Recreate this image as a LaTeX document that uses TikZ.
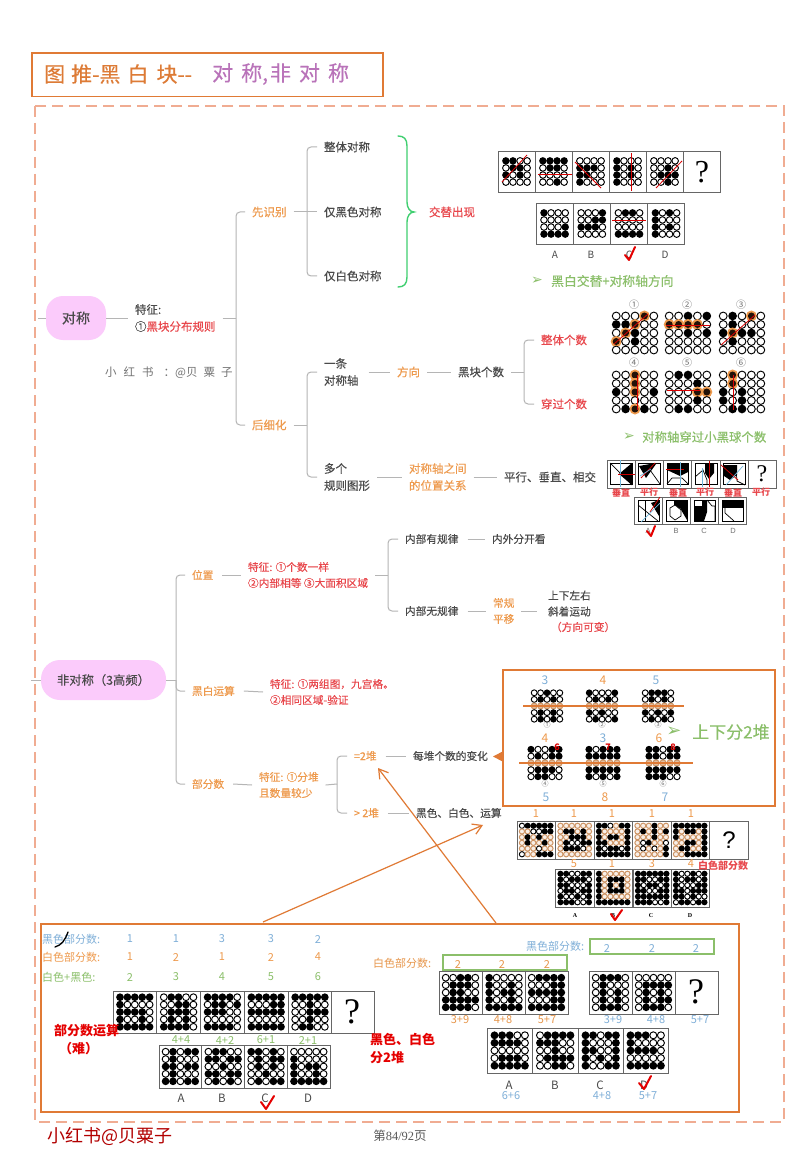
\documentclass[tikz,border=0pt]{standalone}
\usepackage{fontspec}
\usetikzlibrary{arrows.meta}
\setmainfont{Noto Sans CJK SC}
\newfontfamily\medf[FakeBold=0.3]{Noto Sans CJK SC}
\newfontfamily\djv{DejaVu Sans}
\newfontfamily\lserif{Liberation Serif}
\newfontfamily\lsans{Liberation Sans}
\definecolor{ink}{HTML}{4A4A4A}
\definecolor{redt}{HTML}{E8474C}
\definecolor{orgt}{HTML}{EE9A4D}
\definecolor{orgb}{HTML}{E07A35}
\definecolor{pinkn}{HTML}{FBCBFB}
\definecolor{grn}{HTML}{8BBF6A}
\definecolor{blu}{HTML}{7FAFD8}
\definecolor{tanc}{HTML}{CD9464}
\definecolor{frm}{HTML}{F0AC92}
\definecolor{barc}{HTML}{B5B5B5}
\newcount\dgx
\def\dgDot#1{%
 \if#10\draw[line width=.95pt,fill=white] ({\dgX+\the\dgx*\dgP},{\dgY+\jj*\dgQ}) circle[radius=\dgR pt];\fi
 \if#11\fill[black] ({\dgX+\the\dgx*\dgP},{\dgY+\jj*\dgQ}) circle[radius=\dgR pt+.45pt];\fi
 \if#12\fill[orgt] ({\dgX+\the\dgx*\dgP},{\dgY+\jj*\dgQ}) circle[radius=\dgR pt+1.6pt];\fill[black!85!orgb] ({\dgX+\the\dgx*\dgP},{\dgY+\jj*\dgQ}) circle[radius=\dgR pt-.4pt];\fi
 \if#1t\draw[tanc,line width=1pt,fill=tanc!15] ({\dgX+\the\dgx*\dgP},{\dgY+\jj*\dgQ}) circle[radius=\dgR pt];\fi
 \if#1u\draw[tanc,line width=1pt,fill=tanc!60] ({\dgX+\the\dgx*\dgP},{\dgY+\jj*\dgQ}) circle[radius=\dgR pt];\fi
}
\def\dgRow#1{\ifx#1;\else\dgDot{#1}\global\advance\dgx by 1 \expandafter\dgRow\fi}
\newcommand{\dg}[6]{%
 \pgfmathsetmacro\dgX{#1-(#3-1)/2*#4}\pgfmathsetmacro\dgY{#2-(#3-1)/2*#5}%
 \pgfmathsetmacro\dgR{0.46*min(#4,#5)}\def\dgP{#4}\def\dgQ{#5}%
 \foreach \rw [count=\jj from 0] in {#6}{\global\dgx=0 \expandafter\dgRow\rw;}%
}
\tikzset{
 conn/.style={barc,line width=1pt},
 brn/.style={barc,line width=1pt,rounded corners=4pt},
 lab/.style={inner sep=0pt,outer sep=7pt,xshift=-7pt,anchor=west,align=left,text=ink,font=\medf\fontsize{11.5}{17}\selectfont},
 lorg/.style={lab,text=orgt},
 lred/.style={lab,text=redt},
 sm/.style={font=\medf\fontsize{10.7}{16}\selectfont},
 rootn/.style={fill=pinkn,rounded corners=17pt,inner sep=0pt,outer sep=0pt,text=ink,font=\medf\fontsize{14}{16}\selectfont},
 cellb/.style={draw=black!60,line width=.9pt,fill=white},
 redln/.style={red!85!black,line width=.8pt},
 chk/.style={red!90!black,line width=2pt,line cap=round,line join=round},
 numb/.style={inner sep=0pt,font=\fontsize{11}{12}\selectfont},
 captxt/.style={inner sep=0pt,font=\fontsize{10}{12}\selectfont,text=ink},
 bigred/.style={inner sep=0pt,anchor=west,align=left,text=red!90!black,font=\fontsize{13}{18}\bfseries\selectfont},
 orgbox/.style={draw=orgb,line width=1.5pt},
 grnbox/.style={draw=grn,line width=1.2pt},
 orgln/.style={orgb,line width=1.3pt},
 bl/.style={blu!90!cyan,line width=.7pt},
 rl/.style={red!80!black,line width=.8pt},
 bk/.style={black,line width=.7pt},
 arr/.style={orgb,line width=1.2pt,-{Straight Barb[length=9pt,width=11pt]}},
 arrowm/.style={inner sep=0pt,text=grn,font=\djv\fontsize{14}{15}\selectfont},
 gtxt/.style={inner sep=0pt,anchor=west,text=grn,font=\medf\fontsize{12.4}{14}\selectfont},
 qm/.style={inner sep=0pt,text=black,font=\lserif\fontsize{32}{34}\selectfont},
 circn/.style={inner sep=0pt,text=black!55,font=\fontsize{10}{12}\selectfont},
 tinyc/.style={inner sep=0pt,text=black!55,font=\fontsize{7}{8}\selectfont},
}
\begin{document}
\begin{tikzpicture}[x=1pt,y=-1pt]
\useasboundingbox (0,0) rectangle (800,1155);
\fill[white] (0,0) rectangle (800,1155);
% title
\draw[orgbox,line width=1.2pt] (32,53) rectangle (383,96.5);
\node[inner sep=0pt,anchor=west,text=orgb!90!brown,font=\medf\fontsize{21}{24}\selectfont] (tA) at (44,74) {图\hspace{6pt}推{-}黑\hspace{7pt}白\hspace{8pt}块{-}{-}};
\node[inner sep=0pt,anchor=west,text=violet!55!white,font=\medf\fontsize{21}{24}\selectfont] (tB) at (212,74) {对\hspace{8pt}称,\hspace{2pt}非\hspace{8pt}对\hspace{8pt}称};
% dashed frame
\draw[frm,line width=1.2pt,dash pattern=on 11pt off 6pt] (35,106) rectangle (784,1122);
% ---- symmetric map
\node[rootn,minimum width=60pt,minimum height=44pt] (dc) at (76,318) {对称};
\coordinate (dcs) at (38,318);
\draw[conn] (dcs) -- (dc.west);
\node[lab] (tz) at (135,318) {特征:\\①\textcolor{redt}{黑块分布规则}};
\draw[conn] (dc.east) -- (tz.west);
\coordinate (b1) at (236,318);
\draw[conn] (tz.east) -- (b1);
\node[lorg] (xsb) at (252,212) {先识别};
\node[lorg] (hxh) at (252,425) {后细化};
\draw[brn] (b1) |- (xsb.west);
\draw[brn] (b1) |- (hxh.west);
\coordinate (b2) at (307,212);
\draw[conn] (xsb.east) -- (b2);
\node[lab] (zt) at (324,147) {整体对称};
\node[lab] (hs) at (324,212) {仅黑色对称};
\node[lab] (bs) at (324,276) {仅白色对称};
\draw[brn] (b2) |- (zt.west);
\draw[conn] (b2) -- (hs.west);
\draw[brn] (b2) |- (bs.west);
\draw[green!50!teal!75!white,line width=1.4pt,line cap=round] (398,136) .. controls (404,136) and (407,139) .. (407,146) -- (407,202) .. controls (407,208) and (410,212) .. (414,212) .. controls (410,212) and (407,216) .. (407,222) -- (407,277) .. controls (407,284) and (404,287) .. (398,287);
\node[lred] (jt) at (429,212) {交替出现};
% puzzle 1
\foreach \x in {498,535,572,609,646,683} \draw[cellb] (\x,151) rectangle ++(37,41);
\dg{516.5}{171.5}{4}{7.1}{7.1}{1100,0110,1010,0000}
\dg{553.5}{171.5}{4}{7.1}{7.1}{1111,0110,0000,0010}
\dg{590.5}{171.5}{4}{7.1}{7.1}{0000,1110,1100,1000}
\dg{627.5}{171.5}{4}{7.1}{7.1}{1000,1010,1010,1000}
\dg{664.5}{171.5}{4}{7.1}{7.1}{0000,0010,0111,0010}
\node[qm] (q1) at (702,172) {?};
\draw[redln] (502,182) -- (527,155);
\draw[redln] (538,174) -- (572,174);
\draw[redln] (575,162) -- (601,188);
\draw[redln] (631,153) -- (631,191);
\draw[redln] (656,188) -- (682,161);
\foreach \x in {536,573.2,610.4,647.4} \draw[cellb] (\x,203) rectangle ++(37.2,41);
\dg{554.6}{223.5}{4}{7.1}{7.1}{1000,0000,0001,1111}
\dg{591.8}{223.5}{4}{7.1}{7.1}{0001,0011,1110,0000}
\dg{629}{223.5}{4}{7.1}{7.1}{0110,0000,0000,1111}
\dg{666}{223.5}{4}{7.1}{7.1}{1010,1000,1010,1000}
\draw[redln] (612,220) -- (646,220);
\node[captxt] (oa) at (555,255) {A};
\node[captxt] (ob) at (591,255) {B};
\node[captxt] (oc) at (629,255) {C};
\node[captxt] (od) at (665,255) {D};
\draw[chk] (625,255) -- (629,260) -- (635,247);
\node[arrowm] (g1) at (537,281) {➢};
\node[gtxt,font=\medf\fontsize{12.8}{14}\selectfont] (g1t) at (551,281) {黑白交替+对称轴方向};
% second branch
\node[lab] (yt) at (324,372) {一条\\对称轴};
\node[lorg] (fx) at (397,372) {方向};
\node[lab] (hk) at (458,372) {黑块个数};
\draw[conn] (yt.east) ++(3,0) -- (fx.west);
\draw[conn] (fx.east) -- (hk.west);
\coordinate (b4) at (524,372);
\draw[conn] (hk.east) -- (b4);
\node[lred] (zg) at (541,340) {整体个数};
\node[lred] (cg) at (541,404) {穿过个数};
\draw[brn] (b4) |- (zg.west);
\draw[brn] (b4) |- (cg.west);
\coordinate (b3) at (307,425);
\draw[conn] (hxh.east) -- (b3);
\node[lab] (dg) at (324,477) {多个\\规则图形};
\draw[brn] (b3) |- (yt.west);
\draw[brn] (b3) |- (dg.west);
\node[lorg] (wz) at (409,477) {对称轴之间\\的位置关系};
\node[lab] (px) at (504,477) {平行、垂直、相交};
\draw[conn] (dg.east) -- (wz.west);
\draw[conn] (wz.east) -- (px.west);
\node[inner sep=0pt,anchor=west,text=black!55,font=\fontsize{11.5}{14}\selectfont] (wm) at (105,373) {小\hspace{7pt}红\hspace{7pt}书\hspace{10pt}：@贝\hspace{6pt}粟\hspace{6pt}子};
% puzzle 2
\node[circn] (c1) at (634,305) {①};
\node[circn] (c2) at (687,305) {②};
\node[circn] (c3) at (741,305) {③};
\node[circn] (c4) at (634,363) {④};
\node[circn] (c5) at (687,363) {⑤};
\node[circn] (c6) at (741,363) {⑥};
\dg{635}{333}{5}{9.4}{8.5}{00020,11200,02100,20100,00000}
\dg{688}{333}{5}{9.4}{8.5}{00101,22220,00101,00000,00000}
\dg{742}{333}{5}{9.4}{8.5}{01020,01000,12110,01000,00000}
\dg{635}{392}{5}{9.4}{8.5}{00200,00200,10201,00000,01210}
\dg{688}{392}{5}{9.4}{8.5}{01100,00010,00022,00010,01100}
\dg{742}{392}{5}{9.4}{8.5}{02000,02000,10100,10100,01100}
\draw[redln] (614,344) -- (648,314);
\draw[redln] (666,325) -- (710,325);
\draw[redln] (721,345) -- (755,315);
\draw[redln] (637,375) -- (637,410);
\draw[redln] (667,390) -- (700,390);
\draw[redln] (733,375) -- (733,410);
\node[arrowm] (g2) at (629,437) {➢};
\node[gtxt] (g2t) at (642,437) {对称轴穿过小黑球个数};
% puzzle 3
\foreach \x in {607,635.3,663.6,691.9,720.2,748.5} {\draw[cellb] (\x,460) rectangle ++(28.3,28);}
\foreach \x in {607,635.3,663.6,691.9,720.2} {\draw[bk] (\x+3.5,463.5) rectangle ++(21.5,21);}
\fill (619,474) -- (632,463) -- (632,485) -- cycle;
\draw[bk] (610,463) -- (632,485);
\draw[bl] (620,460) -- (620,487);
\draw[rl] (618,474) -- (635,474);
\fill (639,466) -- (650,464) -- (656,464) -- (646,478) -- cycle;
\draw[bk] (650,470) -- (660,484);
\draw[rl] (641,478) -- (655,463);
\draw[bl] (640,476) -- (651,469);
\fill (667,464) -- (688,464) -- (688,472) -- (680,476) -- (667,470) -- cycle;
\draw[bk] (667,484) -- (672,478) -- (682,478) -- (688,484);
\draw[rl] (666,469) -- (684,469);
\draw[bl] (680,462) -- (680,487);
\fill (705,463) -- (714,463) -- (714,473) -- (709,479) -- (705,473) -- cycle;
\draw[bk] (695,477) -- (703,470) -- (707,480) -- (707,485);
\draw[rl] (709,461) -- (709,487);
\draw[bl] (702,468) -- (702,487);
\fill (724,465) -- (737,465) -- (737,475) -- (730,480) -- (724,476) -- cycle;
\draw[bk] (736,470) -- (737,481) -- (745,485);
\draw[rl] (721,465) -- (738,480);
\draw[bl] (726,485) -- (743,466);
\node[qm,font=\lserif\fontsize{24}{26}\selectfont] (q3) at (762,474) {?};
\foreach \x/\t [count=\i] in {621/垂直,649/平行,678/垂直,705/平行,733/垂直,761/平行}
 \node[inner sep=0pt,text=redt,font=\fontsize{9}{10}\bfseries\selectfont] (cz\i) at (\x,492.5) {\t};
\foreach \x in {634.5,662.6,690.7,718.8} {\draw[cellb] (\x,497) rectangle ++(28.1,27.5);\draw[bk] (\x+3.5,500) rectangle ++(21,21);}
\fill (651,503) -- (659,500) -- (659,516) -- cycle;
\draw[bk] (638,505) -- (658,521);
\draw[bk] (645,500) -- (645,521);
\draw[rl] (650,512) -- (660,497);
\draw[bl] (641,522) -- (660,503);
\fill (674,500) -- (687,500) -- (687,520) -- (680,508) -- (674,508) -- cycle;
\draw[bk,fill=white] (670,508) -- (675,505) -- (681,510) -- (681,516) -- (675,520) -- (670,516) -- cycle;
\fill (694,506) -- (702,506) -- (702,500) -- (707,500) -- (707,512) -- (704,521) -- (694,521) -- cycle;
\draw[bk] (707,500) -- (712,506) -- (715,506) -- (715,521);
\fill (722,500) -- (743,500) -- (743,508) -- (722,508) -- cycle;
\draw[bk] (725,508) -- (725,513) -- (734,521);
\node[tinyc,font=\lsans\fontsize{7.5}{8}\selectfont] (pa) at (648,531) {A};
\node[tinyc,font=\lsans\fontsize{7.5}{8}\selectfont] (pb) at (676,531) {B};
\node[tinyc,font=\lsans\fontsize{7.5}{8}\selectfont] (pc) at (704,531) {C};
\node[tinyc,font=\lsans\fontsize{7.5}{8}\selectfont] (pd) at (733,531) {D};
\draw[chk] (647,531) -- (651,536) -- (655,526);
% ---- asymmetric map
\node[rootn,minimum width=125pt,minimum height=40pt,rounded corners=19pt,font=\medf\fontsize{12.3}{16}\selectfont] (fd) at (103.5,680) {非对称（3高频）};
\coordinate (fds) at (31,680);
\draw[conn] (fds) -- (fd.west);
\coordinate (b5) at (176,680);
\draw[conn] (fd.east) -- (b5);
\node[lorg,sm] (wz2) at (192,575) {位置};
\node[lorg,sm] (hb) at (192,691) {黑白运算};
\node[lorg,sm] (bf) at (192,784) {部分数};
\draw[brn] (b5) |- (wz2.west);
\draw[brn] (b5) |- (hb.west);
\draw[brn] (b5) |- (bf.west);
\node[lred,sm] (tz1) at (248,575) {特征: ①个数一样\\②内部相等 ③大面积区域};
\draw[conn] (wz2.east) ++(2,0) -- (tz1.west);
\coordinate (b6) at (388,575);
\draw[conn] (tz1.east) -- (b6);
\node[lab,sm] (ny) at (405,539) {内部有规律};
\node[lab,sm] (nw) at (405,611) {内部无规律};
\draw[brn] (b6) |- (ny.west);
\draw[brn] (b6) |- (nw.west);
\node[lab,sm] (nwk) at (492,539) {内外分开看};
\draw[conn] (ny.east) ++(2,0) -- (nwk.west);
\node[lorg,sm] (cg2) at (493,611) {常规\\平移};
\draw[conn] (nw.east) ++(2,0) -- (cg2.west);
\node[lab,sm] (sx) at (548,603.5) {上下左右\\斜着运动};
\coordinate (sxa) at (537,611);
\draw[conn] (cg2.east) -- (sxa);
\node[lred,sm] (fxk) at (551,627) {（方向可变）};
\node[lred,sm] (tz2) at (270,692) {特征: ①两组图，九宫格。\\②相同区域-验证};
\draw[conn] (hb.east) ++(2,0) -- (tz2.west);
\node[lorg,sm] (tz3) at (259,785) {特征: ①分堆\\且数量较少};
\draw[conn] (bf.east) ++(2,0) -- (tz3.west);
\coordinate (b7) at (337,784);
\draw[conn] (tz3.east) -- (b7);
\node[lorg,sm] (e2) at (354,756) {=2堆};
\node[lorg,sm] (g22) at (354,813) {> 2堆};
\draw[brn] (b7) |- (e2.west);
\draw[brn] (b7) |- (g22.west);
\node[lab,sm] (md) at (413,756) {每堆个数的变化};
\node[lab,sm] (hbs) at (416,813) {黑色、白色、运算};
\draw[conn] (e2.east) ++(2,0) -- (md.west);
\draw[conn] (g22.east) ++(2,0) -- (hbs.west);
% box upper right
\draw[orgbox] (503,670) rectangle (775,806);
\fill[orgb] (503.5,751) -- (493,756.5) -- (503.5,762) -- cycle;
\foreach \x/\y/\t/\c [count=\i] in {545/680/3/blu,603/680/4/orgt,656/680/5/blu,545/738/4/orgt,603/738/3/blu,659/738/6/orgt,546/797/5/blu,605/797/8/orgt,665/797/7/blu}
 \node[numb,text=\c,font=\fontsize{12}{14}\selectfont] (bn\i) at (\x,\y) {\t};
\dg{547}{706}{5}{6.4}{6.6}{00100,01010,uuuuu,01010,01010}
\dg{602}{706}{5}{6.4}{6.6}{10001,01010,uuuuu,10100,01001}
\dg{658}{706}{5}{6.4}{6.6}{01110,01010,uuuuu,10101,01010}
\dg{545}{763}{5}{7}{6.8}{10011,01011,uuuuu,01110,01100}
\dg{603}{763}{5}{7}{6.8}{10111,11111,uuuuu,11111,10101}
\dg{663}{763}{5}{7}{6.8}{11011,11011,uuuuu,11111,11100}
\foreach \x/\y/\t [count=\i] in {557/747/6,608/747/7,673/747/8}
 \node[numb,text=red!85!black,font=\fontsize{9}{10}\bfseries\selectfont] (rn\i) at (\x,\y) {\t};
\draw[orgln] (523,706) -- (684,706);
\draw[orgln] (519,763) -- (693,763);
\foreach \x/\t [count=\i] in {547/①,602/②,658/③} \node[tinyc] (ts\i) at (\x,725) {\t};
\foreach \x/\t [count=\i] in {545/④,603/⑤,663/⑥} \node[tinyc] (us\i) at (\x,784) {\t};
\node[arrowm,font=\djv\fontsize{18}{20}\selectfont] (g3) at (674,732) {➢};
\node[gtxt,font=\medf\fontsize{17}{20}\selectfont] (g3t) at (692,732) {上下分2堆};
% puzzle 4
\foreach \x in {517,555.5,594,632.5,671,709.5} \draw[cellb] (\x,821) rectangle ++(38.5,38);
\def\pgA{5.7}
\dg{536.2}{840}{6}{\pgA}{\pgA}{011111,tt0011,t1t1tt,t1tt1t,ttt0tt,0tt111}
\dg{574.7}{840}{6}{\pgA}{\pgA}{tttttt,t11t1t,tt111t,t10011,t1110t,tttttt}
\dg{613.2}{840}{6}{\pgA}{\pgA}{110t11,1tttt1,1t11t1,11ttt1,101101,111111}
\dg{651.7}{840}{6}{\pgA}{\pgA}{ttt1tt,t1t1t1,ttt1tt,t01tt0,t0t0t1,ttttt1}
\dg{690.2}{840}{6}{\pgA}{\pgA}{111111,1t11t1,1tttt1,tt11t1,t11tt1,tt1111}
\node[qm,font=\lsans\fontsize{24}{26}\selectfont] (q4) at (729,840) {?};
\foreach \x/\t [count=\i] in {536/1,574/1,612/1,652/1,691/1}
 \node[numb,text=orgt] (fn\i) at (\x,814) {\t};
\foreach \x in {555.5,594,633,671} \draw[cellb] (\x,869) rectangle ++(38.5,38);
\dg{574.7}{888}{6}{\pgA}{\pgA}{110011,101110,110001,011011,100101,111001}
\dg{613.2}{888}{6}{\pgA}{\pgA}{1ttttt,1t111t,1t1t1t,1t111t,1ttttt,111111}
\dg{652.2}{888}{6}{\pgA}{\pgA}{111111,110011,101101,110011,111111,111001}
\dg{690.2}{888}{6}{\pgA}{\pgA}{100101,101101,100011,110111,110100,011011}
\foreach \x/\t [count=\i] in {574/5,612/1,652/3,691/4}
 \node[numb,text=orgt] (gn\i) at (\x,864) {\t};
\foreach \x/\t [count=\i] in {575/A,613/B,651/C,690/D}
 \node[inner sep=0pt,font=\lserif\fontsize{6}{7}\bfseries\selectfont] (gl\i) at (\x,916) {\t};
\draw[chk] (611,914) -- (615,920) -- (622,910);
\node[inner sep=0pt,anchor=west,text=redt,font=\fontsize{10}{12}\bfseries\selectfont] (bfs) at (698,866) {白色部分数};
% big lower box
\draw[orgbox] (41,924) rectangle (739,1112);
\coordinate (s1) at (263,922);
\coordinate (e1) at (483,825);
\coordinate (s2) at (496,923);
\coordinate (e2a) at (378,768);
\draw[arr] (s1) -- (e1);
\draw[arr] (s2) -- (e2a);
\node[inner sep=0pt,anchor=west,text=blu,font=\fontsize{11}{12}\selectfont] (r1) at (42,939) {黑色部分数:};
\node[inner sep=0pt,anchor=west,text=orgt,font=\fontsize{11}{12}\selectfont] (r2) at (42,957) {白色部分数:};
\node[inner sep=0pt,anchor=west,text=grn,font=\fontsize{11}{12}\selectfont] (r3) at (42,977) {白色+黑色:};
\foreach \x/\a/\b/\c [count=\i] in {130/1/1/2,176/1/2/3,222/3/1/4,271/3/2/5,318/2/4/6}{
 \node[numb,text=blu] (ra\i) at (\x,939) {\a};
 \node[numb,text=orgt] (rb\i) at (\x,957) {\b};
 \node[numb,text=grn] (rc\i) at (\x,977) {\c};
}
\draw[black,line width=1.3pt,line cap=round] (55,947) .. controls (62,945) and (65,940) .. (68,932);
\foreach \x in {113,156.8,200.6,244.4,288.2,331} \draw[cellb] (\x,991) rectangle ++(43.6,42);
\def\pgB{7.4}
\dg{134.8}{1012}{5}{\pgB}{\pgB}{11111,10000,11110,10010,11111}
\dg{178.6}{1012}{5}{\pgB}{\pgB}{01100,00110,01110,01010,11110}
\dg{222.4}{1012}{5}{\pgB}{\pgB}{11110,01101,11100,00000,11110}
\dg{266.2}{1012}{5}{\pgB}{\pgB}{11111,00011,11111,00000,11111}
\dg{310}{1012}{5}{\pgB}{\pgB}{11111,00100,00111,00100,01100}
\node[qm,font=\lserif\fontsize{36}{38}\selectfont] (q5) at (352,1012) {?};
\foreach \x/\t [count=\i] in {181/4+4,225/4+2,266/6+1,308/2+1}
 \node[numb,text=grn] (ls\i) at (\x,1040) {\t};
\foreach \x in {159,201.8,244.6,287.4} \draw[cellb] (\x,1045) rectangle ++(42.8,43);
\dg{180.4}{1066.5}{5}{\pgB}{\pgB}{01011,01000,11011,01000,11011}
\dg{223.2}{1066.5}{5}{\pgB}{\pgB}{01100,11011,00100,11011,01010}
\dg{266}{1066.5}{5}{\pgB}{\pgB}{11010,01011,01010,00100,01011}
\dg{308.8}{1066.5}{5}{\pgB}{\pgB}{00000,10000,10110,10010,11111}
\foreach \x/\t [count=\i] in {181/A,222/B,265/C,308/D}
 \node[captxt,font=\fontsize{11.5}{13}\selectfont] (lo\i) at (\x,1098) {\t};
\draw[chk] (261,1102) -- (266,1109) -- (274,1096);
\node[bigred] (bs1) at (54,1040) {部分数运算\\\hspace{5pt}（难）};
\node[bigred] (bs2) at (370,1049) {黑色、白色\\分2堆};
% right lower puzzle
\node[inner sep=0pt,anchor=west,text=blu,font=\fontsize{11}{12}\selectfont] (q1l) at (526,946) {黑色部分数:};
\draw[grnbox] (590,939) rectangle (714,954);
\node[inner sep=0pt,anchor=west,text=orgt!85!brown,font=\fontsize{11}{12}\selectfont] (q2l) at (373,963) {白色部分数:};
\draw[grnbox] (443,955) rectangle (567,970);
\foreach \x [count=\i] in {607,652,696} \node[numb,text=blu] (h1\i) at (\x,948) {2};
\foreach \x [count=\i] in {458,502,547} \node[numb,text=orgt!85!brown] (h2\i) at (\x,964) {2};
\foreach \x in {439,482.5,525,589,632,675} \draw[cellb] (\x,971) rectangle ++(43,43);
\def\pgC{7.4}
\dg{460.5}{992.5}{5}{\pgC}{\pgC}{00110,01110,01100,11111,11110}
\dg{504}{992.5}{5}{\pgC}{\pgC}{10000,10010,10110,10010,11111}
\dg{546.5}{992.5}{5}{\pgC}{\pgC}{01111,00011,11111,00011,11111}
\dg{610.5}{992.5}{5}{\pgC}{\pgC}{01110,01000,01010,01010,01110}
\dg{653.5}{992.5}{5}{\pgC}{\pgC}{00000,01111,01010,01011,01110}
\node[qm,font=\lserif\fontsize{36}{38}\selectfont] (q6) at (696,992) {?};
\foreach \x/\t [count=\i] in {460/3+9,503/4+8,547/5+7}
 \node[numb,text=orgt!85!brown,font=\fontsize{11}{12}\selectfont] (k1\i) at (\x,1020) {\t};
\foreach \x/\t [count=\i] in {613/3+9,656/4+8,700/5+7}
 \node[numb,text=blu,font=\fontsize{11}{12}\selectfont] (k2\i) at (\x,1020) {\t};
\foreach \x in {487,532.5,578,623} \draw[cellb] (\x,1028) rectangle ++(45.5,45);
\def\pgD{7.6}
\dg{509.7}{1050.5}{5}{\pgD}{\pgD}{11100,11110,00000,01110,11111}
\dg{555.2}{1050.5}{5}{\pgD}{\pgD}{01111,11100,00100,01111,00110}
\dg{600.7}{1050.5}{5}{\pgD}{\pgD}{11011,10001,11001,10101,10011}
\dg{645.7}{1050.5}{5}{\pgD}{\pgD}{11100,10000,11110,00000,11111}
\foreach \x/\t [count=\i] in {509/A,555/B,600/C,644/D}
 \node[captxt,font=\fontsize{11.5}{13}\selectfont] (ro\i) at (\x,1085) {\t};
\foreach \x/\t [count=\i] in {511/6+6,602/4+8,648/5+7}
 \node[numb,text=blu,font=\fontsize{11}{12}\selectfont] (rk\i) at (\x,1096) {\t};
\draw[chk] (639,1083) -- (644,1089) -- (651,1076);
% footer
\node[inner sep=0pt,anchor=west,text=red!70!black,font=\fontsize{18}{20}\selectfont] (ft) at (47,1136) {小红书@贝粟子};
\node[inner sep=0pt,text=black!65,font=\fontsize{12.5}{14}\selectfont] (pg) at (400,1136) {第{\lserif 84/92}页};
\end{tikzpicture}
\end{document}
